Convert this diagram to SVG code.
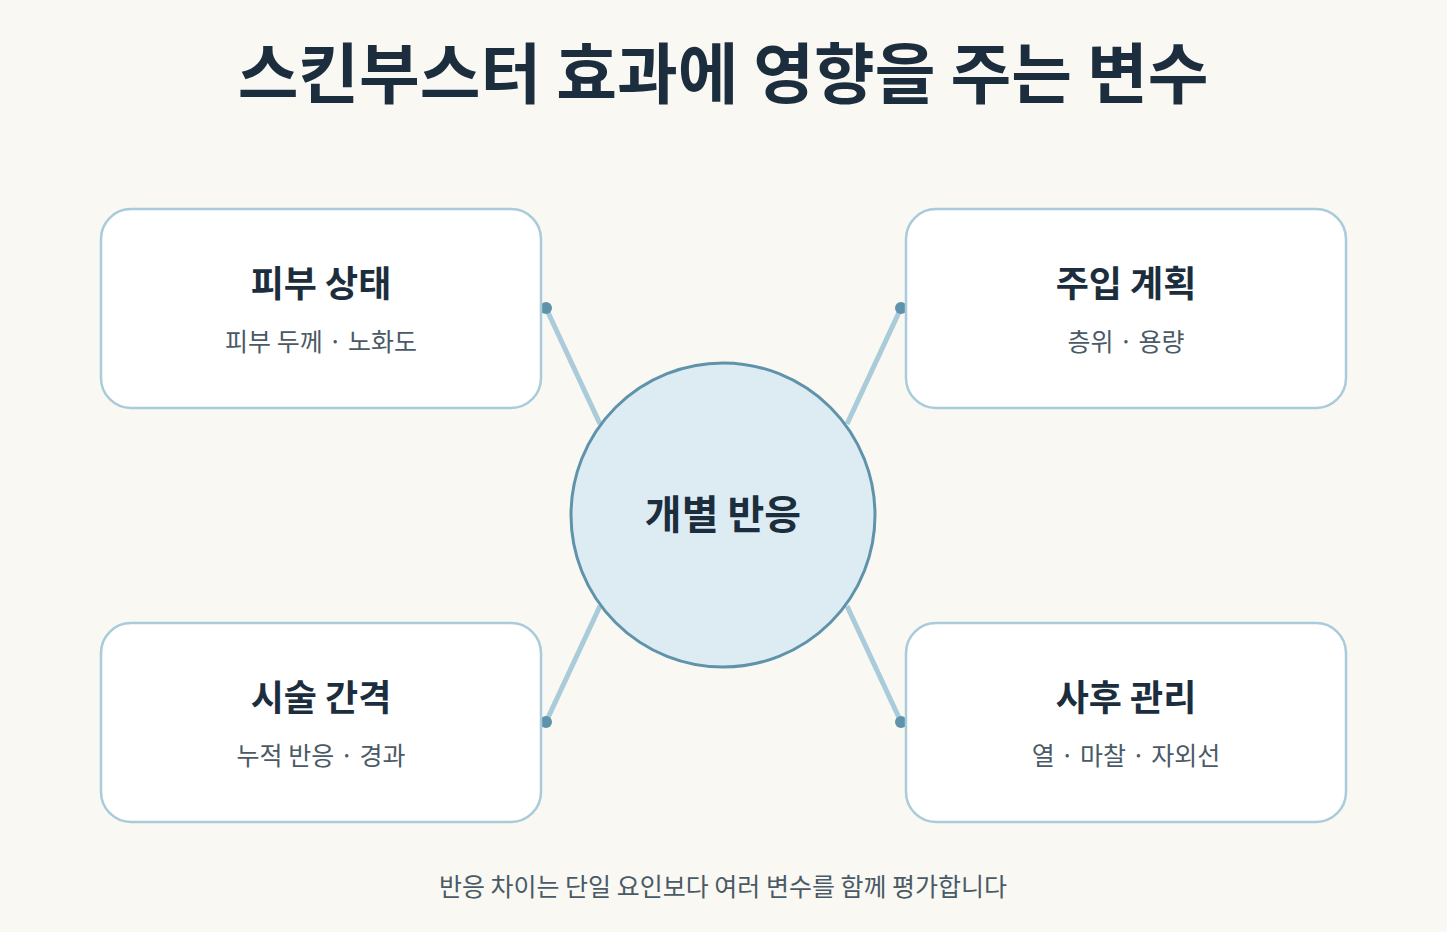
<svg xmlns="http://www.w3.org/2000/svg" width="1447" height="932" viewBox="0 0 1447 932">
<style>
text{font-family:"Noto Sans CJK KR","Noto Sans",sans-serif;text-anchor:middle}
.box{fill:#fff;stroke:#a9cbda;stroke-width:2.5}
.t{font-size:36px;font-weight:700;fill:#1c2e3e}
.s{font-size:25px;fill:#4a5a66}
.ln{stroke:#a9cbda;stroke-width:5}
.dot{fill:#5f93ab}
</style>
<rect width="1447" height="932" fill="#f9f8f3"/>
<text x="723" y="98" style="font-size:66px;font-weight:700;fill:#1c2e3e">스킨부스터 효과에 영향을 주는 변수</text>
<g id="connectors">
<line class="ln" x1="546" y1="308" x2="600" y2="424"/>
<line class="ln" x1="901" y1="308" x2="847" y2="424"/>
<line class="ln" x1="546" y1="722" x2="600" y2="606"/>
<line class="ln" x1="901" y1="722" x2="847" y2="606"/>
<circle class="dot" cx="546" cy="308" r="6"/>
<circle class="dot" cx="901" cy="308" r="6"/>
<circle class="dot" cx="546" cy="722" r="6"/>
<circle class="dot" cx="901" cy="722" r="6"/>
</g>
<g id="n1"><rect class="box" x="101" y="209" width="440" height="199" rx="30"/>
<text class="t" x="321" y="297">피부 상태</text><text class="s" x="321" y="351">피부 두께 · 노화도</text></g>
<g id="n2"><rect class="box" x="906" y="209" width="440" height="199" rx="30"/>
<text class="t" x="1126" y="297">주입 계획</text><text class="s" x="1126" y="351">층위 · 용량</text></g>
<g id="n3"><rect class="box" x="101" y="623" width="440" height="199" rx="30"/>
<text class="t" x="321" y="711">시술 간격</text><text class="s" x="321" y="765">누적 반응 · 경과</text></g>
<g id="n4"><rect class="box" x="906" y="623" width="440" height="199" rx="30"/>
<text class="t" x="1126" y="711">사후 관리</text><text class="s" x="1126" y="765">열 · 마찰 · 자외선</text></g>
<g id="center"><circle cx="723" cy="515" r="152" fill="#ddecf3" stroke="#5f93ab" stroke-width="3"/>
<text class="t" x="723" y="529" style="font-size:40px">개별 반응</text></g>
<text x="723" y="896" style="font-size:25px;fill:#4a5a66">반응 차이는 단일 요인보다 여러 변수를 함께 평가합니다</text>
</svg>
